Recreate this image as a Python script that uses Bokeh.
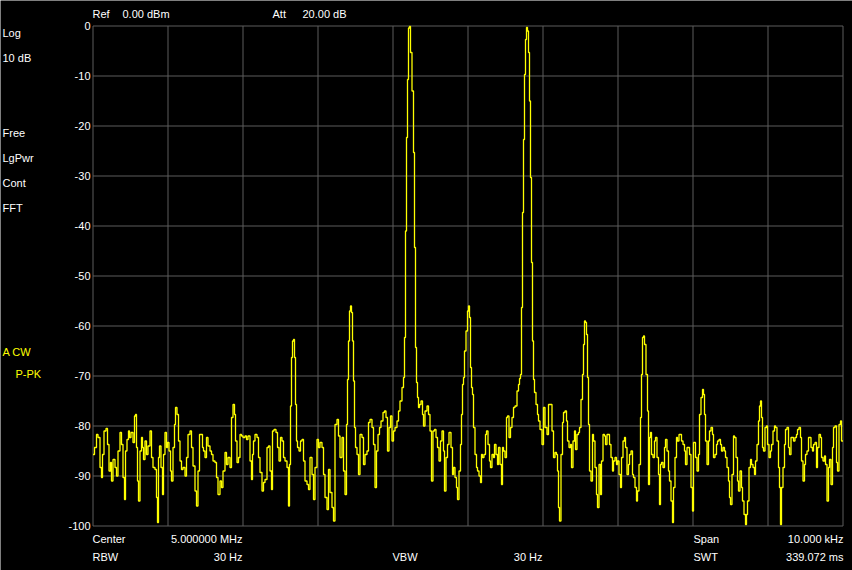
from bokeh.plotting import figure
from bokeh.models import Label, Range1d
from bokeh.core.properties import value
from bokeh.embed import file_html
from bokeh.resources import INLINE

# ---- instrument settings ----
center_mhz = 5.0
span_khz = 10.0
n_sweep = 751
ref_level = 0.0
db_per_div = 10.0
n_div = 10

# ---- trace A (clear write): sweep point index, level in dBm ----
sweep_point = [
    0, 3, 4, 6, 8, 9, 10, 12, 14, 15, 17, 18, 19, 21, 23, 24, 26, 28, 29, 31,
    32, 33, 35, 36, 37, 39, 41, 42, 43, 44, 45, 46, 48, 49, 50, 51, 53, 54, 56, 58,
    59, 61, 63, 64, 65, 66, 67, 69, 70, 71, 73, 74, 75, 77, 78, 79, 81, 82, 83, 85,
    86, 88, 89, 91, 93, 94, 96, 98, 99, 101, 103, 104, 106, 107, 109, 110, 111, 113, 114, 116,
    118, 119, 121, 123, 124, 126, 128, 129, 131, 133, 134, 136, 138, 139, 141, 142, 143, 145, 146, 148,
    149, 151, 153, 154, 156, 158, 159, 160, 161, 163, 165, 166, 168, 170, 171, 173, 175, 176, 178, 179,
    180, 182, 184, 185, 187, 188, 190, 191, 193, 195, 196, 197, 198, 199, 200, 201, 202, 203, 204, 205,
    207, 208, 210, 211, 213, 215, 216, 218, 220, 221, 223, 225, 226, 228, 230, 231, 233, 235, 236, 238,
    240, 241, 243, 245, 246, 248, 250, 251, 253, 254, 255, 256, 257, 258, 259, 260, 261, 262, 263, 265,
    266, 268, 270, 271, 273, 275, 276, 278, 280, 281, 283, 284, 286, 287, 289, 291, 292, 294, 295, 297,
    298, 300, 301, 303, 305, 306, 308, 310, 311, 312, 313, 314, 315, 316, 317, 318, 320, 321, 322, 323,
    324, 325, 326, 327, 329, 330, 331, 333, 335, 336, 338, 339, 341, 342, 344, 345, 347, 348, 350, 351,
    352, 354, 355, 357, 359, 360, 361, 363, 364, 365, 367, 368, 369, 370, 371, 372, 374, 375, 376, 377,
    378, 379, 380, 381, 383, 384, 385, 387, 388, 389, 390, 392, 393, 394, 396, 397, 398, 400, 401, 402,
    404, 405, 406, 408, 409, 410, 411, 413, 414, 415, 417, 418, 420, 421, 423, 425, 426, 427, 428, 429,
    430, 431, 432, 433, 434, 435, 436, 437, 438, 439, 440, 441, 442, 444, 445, 446, 448, 450, 451, 453,
    455, 456, 458, 460, 461, 463, 464, 465, 466, 467, 469, 470, 471, 473, 474, 475, 477, 478, 479, 481,
    482, 483, 485, 486, 487, 489, 490, 491, 492, 493, 494, 495, 496, 497, 499, 500, 501, 503, 504, 505,
    507, 508, 509, 511, 512, 513, 515, 516, 517, 519, 520, 521, 523, 524, 525, 527, 528, 529, 531, 532,
    533, 535, 536, 537, 539, 540, 541, 543, 544, 545, 547, 548, 549, 550, 551, 552, 554, 555, 556, 557,
    558, 559, 561, 562, 563, 565, 566, 567, 568, 569, 571, 572, 573, 575, 576, 577, 579, 580, 581, 583,
    584, 585, 587, 588, 589, 591, 592, 593, 595, 596, 597, 599, 600, 601, 602, 603, 605, 606, 607, 609,
    610, 611, 612, 613, 615, 616, 617, 619, 620, 621, 623, 624, 625, 627, 628, 629, 631, 632, 633, 635,
    636, 637, 638, 640, 641, 642, 644, 645, 646, 648, 649, 650, 652, 653, 654, 655, 657, 658, 659, 661,
    662, 663, 665, 666, 667, 668, 669, 670, 671, 673, 674, 675, 677, 678, 679, 681, 682, 683, 685, 686,
    687, 688, 689, 691, 692, 693, 695, 696, 697, 699, 700, 701, 703, 704, 705, 707, 708, 709, 711, 712,
    713, 715, 716, 717, 719, 720, 721, 723, 724, 725, 727, 728, 729, 731, 732, 733, 735, 736, 737, 739,
    740, 741, 743, 744, 745, 747, 748, 749, 750,
]
level_dbm = [
    -85.7, -84.3, -81.7, -82.3, -88.3, -90.3, -85.7, -81.0, -80.5, -83.7, -89.0, -87.3, -91.0, -86.7, -88.3, -90.0, -85.0, -81.3, -83.7, -90.3,
    -94.7, -85.0, -82.7, -81.0, -82.3, -81.3, -83.3, -78.0, -77.7, -84.3, -91.0, -95.0, -85.0, -82.3, -84.3, -86.7, -83.0, -85.7, -84.0, -81.0,
    -86.3, -88.3, -88.7, -94.3, -99.3, -86.3, -84.0, -88.3, -93.7, -85.7, -81.3, -84.3, -83.3, -85.0, -89.0, -91.0, -84.3, -79.7, -76.3, -77.7,
    -83.0, -87.0, -88.7, -88.3, -90.0, -86.3, -81.7, -81.0, -84.3, -88.0, -93.0, -96.0, -89.0, -81.7, -81.7, -84.3, -85.0, -86.3, -82.3, -84.0,
    -85.0, -85.7, -87.0, -87.3, -90.3, -93.7, -91.0, -92.3, -89.0, -85.3, -87.7, -86.3, -88.3, -78.3, -75.7, -77.7, -83.0, -87.3, -86.3, -81.7,
    -82.0, -82.3, -82.0, -82.7, -82.0, -87.0, -90.7, -85.7, -83.0, -81.7, -82.3, -86.3, -89.3, -93.0, -91.3, -90.7, -84.3, -84.0, -89.0, -92.7,
    -81.0, -80.7, -81.3, -84.3, -87.0, -82.3, -83.0, -86.3, -87.0, -88.3, -96.0, -87.7, -76.0, -66.3, -63.0, -62.7, -66.3, -75.7, -83.0, -84.3,
    -85.0, -83.0, -82.7, -87.0, -91.0, -91.7, -92.7, -86.3, -89.7, -94.7, -88.3, -82.7, -84.3, -83.3, -84.3, -89.7, -94.3, -96.7, -88.7, -93.3,
    -96.3, -99.0, -79.7, -78.7, -82.0, -86.3, -82.3, -89.0, -93.7, -79.7, -70.7, -63.0, -57.0, -56.0, -57.3, -63.0, -71.0, -80.3, -84.3, -85.7,
    -89.7, -81.7, -82.3, -87.7, -85.7, -85.0, -79.3, -78.7, -80.3, -83.7, -92.3, -85.0, -81.7, -80.3, -79.0, -77.3, -77.0, -78.3, -85.0, -80.3,
    -78.0, -83.0, -81.0, -80.3, -79.0, -77.0, -75.0, -72.3, -70.3, -62.3, -41.0, -22.3, -10.7, -0.4, -0.1, -5.3, -13.0, -25.3, -44.3, -64.3,
    -71.3, -74.3, -76.3, -75.7, -75.0, -77.7, -80.0, -77.0, -76.0, -77.7, -81.0, -91.0, -81.0, -80.7, -82.3, -84.3, -87.0, -83.0, -81.0, -85.0,
    -93.0, -86.3, -83.7, -81.3, -84.3, -89.7, -88.3, -90.3, -92.3, -94.7, -89.0, -83.7, -77.7, -71.7, -70.3, -65.0, -61.0, -57.0, -56.0, -58.3,
    -68.3, -72.3, -73.7, -80.3, -85.7, -88.3, -89.0, -90.0, -91.3, -85.7, -86.3, -85.7, -81.7, -81.0, -83.7, -87.0, -88.3, -85.7, -86.3, -83.7,
    -85.7, -87.7, -84.3, -87.7, -91.7, -84.3, -85.0, -86.3, -78.3, -78.0, -82.3, -80.3, -78.3, -76.3, -76.0, -73.0, -71.7, -70.5, -69.7, -56.3,
    -37.3, -22.7, -9.7, -2.7, -0.3, -1.0, -5.3, -15.0, -30.3, -47.3, -63.0, -70.7, -73.3, -75.7, -77.7, -79.0, -80.7, -83.7, -76.3, -80.3,
    -81.7, -75.7, -75.7, -81.0, -86.3, -85.3, -85.7, -89.0, -96.3, -99.0, -85.7, -79.3, -77.3, -77.0, -79.0, -83.0, -84.3, -83.7, -88.3, -83.0,
    -81.0, -84.7, -81.7, -81.3, -80.3, -74.7, -69.7, -63.7, -59.0, -59.3, -61.7, -70.3, -79.7, -89.0, -91.0, -81.7, -83.0, -88.3, -93.7, -96.3,
    -87.7, -93.7, -87.0, -81.7, -82.0, -83.7, -81.7, -81.7, -83.7, -86.3, -89.0, -87.0, -86.3, -87.7, -87.0, -89.7, -92.3, -86.3, -83.0, -82.3,
    -84.3, -89.7, -87.7, -85.7, -85.0, -89.7, -90.3, -92.3, -95.0, -93.0, -87.7, -78.3, -69.7, -62.3, -62.0, -63.7, -69.7, -77.0, -91.7, -82.3,
    -81.3, -85.7, -86.3, -83.0, -82.3, -86.3, -89.7, -95.7, -87.7, -87.3, -88.3, -84.3, -82.7, -85.0, -89.0, -91.0, -95.0, -99.3, -92.3, -86.3,
    -82.3, -83.0, -81.7, -81.7, -83.0, -83.7, -85.0, -87.7, -84.3, -84.3, -85.7, -92.3, -97.0, -83.3, -83.3, -86.3, -89.0, -85.7, -77.7, -74.3,
    -72.7, -73.7, -77.7, -83.0, -87.7, -83.0, -81.0, -80.3, -81.7, -86.3, -85.7, -83.7, -83.0, -82.7, -83.7, -85.0, -84.3, -85.0, -86.3, -88.3,
    -91.0, -94.3, -95.7, -89.7, -82.0, -82.3, -86.3, -91.0, -93.0, -89.0, -92.3, -95.0, -97.7, -99.7, -97.7, -95.0, -88.3, -86.7, -87.7, -88.3,
    -89.7, -87.0, -83.7, -79.0, -76.0, -75.0, -78.3, -84.3, -85.0, -80.3, -80.0, -83.7, -86.3, -85.0, -83.7, -81.0, -80.0, -80.3, -83.0, -88.3,
    -92.3, -99.7, -92.3, -88.3, -83.7, -80.7, -80.3, -84.3, -85.7, -82.3, -82.3, -83.0, -82.3, -81.7, -80.7, -80.3, -82.3, -87.0, -91.0, -87.7,
    -85.7, -85.0, -82.3, -82.3, -84.3, -85.0, -83.7, -83.3, -88.3, -84.3, -81.7, -82.3, -86.3, -87.0, -86.0, -87.7, -95.0, -88.3, -86.7, -91.7,
    -84.3, -80.3, -80.0, -87.3, -89.0, -79.7, -79.0, -83.0, -83.0,
]

# ---- tick labels and annotation texts ----
y_ticks = [0, -10, -20, -30, -40, -50, -60, -70, -80, -90, -100]
y_tick_labels = ["0", "-10", "-20", "-30", "-40", "-50", "-60", "-70", "-80", "-90", "-100"]
top_texts = ["Ref", "0.00 dBm", "Att", "20.00 dB"]
side_texts = ["Log", "10 dB", "Free", "LgPwr", "Cont", "FFT"]
trace_texts = ["A CW", "P-PK"]
bottom_left = [("Center", "5.000000 MHz"), ("RBW", "30 Hz")]
bottom_mid = [("", ""), ("VBW", "30 Hz")]
bottom_right = [("Span", "10.000 kHz"), ("SWT", "339.072 ms")]

f_start = center_mhz - span_khz / 2000.0
f_stop = center_mhz + span_khz / 2000.0
step_mhz = (f_stop - f_start) / (n_sweep - 1)
freq_mhz = [f_start + i * step_mhz for i in sweep_point]
x_ticks = [f_start + k * (f_stop - f_start) / n_div for k in range(n_div + 1)]
y_bottom = ref_level - n_div * db_per_div

# ---- layout: the frame fills the canvas, the graticule sits inside it ----
W, H = 852, 570
GX0, GY0, GW, GH = 92.5, 25.5, 750, 500      # graticule box on the canvas
ux = (f_stop - f_start) / GW                  # MHz per pixel
uy = (n_div * db_per_div) / GH                # dB per pixel
FONT = "Liberation Sans"
FS = "11px"
GRID = "#5c5c5c"

p = figure(width=W, height=H, output_backend="svg", toolbar_location=None,
           x_range=Range1d(f_start - GX0 * ux, f_start + (W - GX0) * ux),
           y_range=Range1d(ref_level - (H - GY0) * uy, ref_level + GY0 * uy),
           background_fill_color="#000000", border_fill_color="#000000",
           min_border=0)
p.xaxis.visible = False
p.yaxis.visible = False
p.xgrid.visible = False
p.ygrid.visible = False
p.outline_line_color = None

# graticule
p.segment(x0=x_ticks, y0=[y_bottom] * len(x_ticks), x1=x_ticks, y1=[ref_level] * len(x_ticks),
          line_color=GRID, line_width=1)
p.segment(x0=[f_start] * len(y_ticks), y0=y_ticks, x1=[f_stop] * len(y_ticks), y1=y_ticks,
          line_color=GRID, line_width=1)

# level scale labels
p.text(x=[f_start - 2.5 * ux] * len(y_ticks), y=y_ticks, text=y_tick_labels,
       text_color="#ffffff", text_font=value(FONT), text_font_size=value(FS),
       text_align="right", text_baseline="middle")

# trace
p.step(freq_mhz, level_dbm, mode="center", line_color="#ffff00", line_width=1.3)


def add(text, px, py, color="#ffffff", align="left"):
    # screen units measured from the frame's lower-left corner (frame == canvas)
    p.add_layout(Label(x=px, y=H - py, x_units="screen", y_units="screen", text=text,
                       text_color=color, text_font=FONT, text_font_size=FS,
                       text_align=align, text_baseline="middle"))


add(top_texts[0], 92, 13)
add(top_texts[1], 122, 13)
add(top_texts[2], 272, 13)
add(top_texts[3], 302, 13)
for t, y in zip(side_texts, [32, 57, 132, 157, 182, 207]):
    add(t, 2, y)
add(trace_texts[0], 2, 351, color="#ffff00")
add(trace_texts[1], 15, 373, color="#ffff00")
for (a, b), y in zip(bottom_left, [538, 556]):
    add(a, 92, y)
    add(b, 242, y, align="right")
for (a, b), y in zip(bottom_mid, [538, 556]):
    if a:
        add(a, 392, y)
        add(b, 542, y, align="right")
for (a, b), y in zip(bottom_right, [538, 556]):
    add(a, 693, y)
    add(b, 843, y, align="right")

open("out.html", "w").write(file_html(p, INLINE))
